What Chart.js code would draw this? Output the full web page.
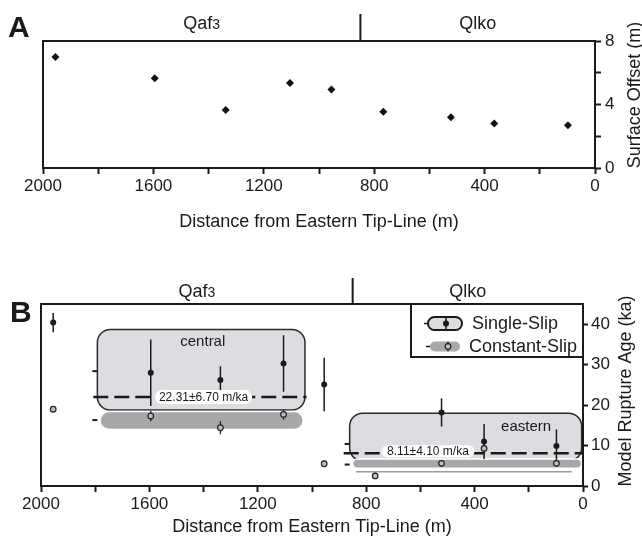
<!DOCTYPE html>
<html>
<head>
<meta charset="utf-8">
<script src="https://cdn.jsdelivr.net/npm/chart.js@4.4.0/dist/chart.umd.min.js"></script>
<style>
    body { margin: 0; background: #fff; width: 642px; height: 541px; position: relative; overflow: hidden; }
    canvas { position: absolute; left: 0; }
    #chartA { top: 0; }
    #chartB { top: 265px; }
</style>
</head>
<body>
<canvas id="chartA" width="642" height="240"></canvas>
<canvas id="chartB" width="642" height="276"></canvas>
<script>
// distance from eastern tip-line (m) of each site
const distance = [1955, 1595, 1338, 1105, 955, 767, 522, 365, 98];
// panel A
const surfaceOffset = [7.0, 5.65, 3.65, 5.35, 4.95, 3.55, 3.2, 2.8, 2.7];
// panel B
const singleSlipAge = [40.4, 28.0, 26.2, 30.3, 25.1, null, 18.2, 11.0, 9.9];
const singleSlipErr = [2.4, 8.2, 3.4, 7.0, 6.6, null, 3.5, 4.3, 4.1];
const constantSlipAge = [19.0, 17.3, 14.4, 17.7, 5.5, 2.5, 5.6, 9.3, 5.6];
const constantSlipErr = [0.8, 1.3, 1.6, 1.3, 0.8, 0.8, 0.8, 1.0, 0.8];

const xTickLabels = [2000, 1600, 1200, 800, 400, 0];
const offsetTickLabels = [0, 4, 8];
const ageTickLabels = [0, 10, 20, 30, 40];

const unitNames = ['Qaf3', 'Qlko'];
const unitCenters = [1425, 425];
const unitBoundary = 850;

// grouped sites (data units)
const centralBox = { from: 1792, to: 1026, top: 38.7, bottom: 18.8 };
const centralBand = { from: 1782, to: 1032, top: 18.4, bottom: 14.0 };
const easternBox = { from: 861, to: 5, top: 18.0, bottom: 6.2 };
const easternBand = { from: 850, to: 5, top: 6.7, bottom: 4.4 };
const centralMean = { from: 1807, to: 1020, age: 22.0 };
const easternMean = { from: 883, to: 0, age: 8.1 };
const centralRate = '22.31±6.70 m/ka';
const easternRate = '8.11±4.10 m/ka';

const FONT = "'Liberation Sans', Arial, Helvetica, sans-serif";
const ink = '#1a1a1a';
const boxFill = '#dcdde0';
const bandFill = '#a7a8aa';

Chart.defaults.font.family = FONT;
Chart.defaults.color = ink;

const framePlugin = {
    id: 'frame',
    afterDraw(chart) {
        const { ctx, chartArea: a } = chart;
        ctx.save();
        ctx.strokeStyle = ink;
        ctx.lineWidth = 2;
        ctx.strokeRect(a.left, a.top, a.right - a.left, a.bottom - a.top);
        ctx.restore();
    }
};

function drawUnitName(ctx, name, cx, cy) {
    let main = name, sub = '';
    if (/\d$/.test(name)) { main = name.slice(0, -1); sub = name.slice(-1); }
    ctx.font = '18px ' + FONT;
    const w1 = ctx.measureText(main).width;
    ctx.font = '14px ' + FONT;
    const w2 = ctx.measureText(sub).width;
    const x0 = cx - (w1 + w2) / 2;
    ctx.textAlign = 'left';
    ctx.textBaseline = 'alphabetic';
    ctx.font = '18px ' + FONT;
    ctx.fillText(main, x0, cy + 6);
    ctx.font = '14px ' + FONT;
    ctx.fillText(sub, x0 + w1, cy + 6);
}

function decorPlugin(opts) {
    return {
        id: 'decor' + opts.letter,
        afterDraw(chart) {
            const { ctx, chartArea: a, scales: { x } } = chart;
            ctx.save();
            const bx = x.getPixelForValue(unitBoundary);
            ctx.strokeStyle = ink;
            ctx.lineWidth = 2;
            ctx.beginPath();
            ctx.moveTo(bx, a.top - opts.dividerLen);
            ctx.lineTo(bx, a.top);
            ctx.stroke();
            ctx.fillStyle = ink;
            unitNames.forEach((n, i) => drawUnitName(ctx, n, x.getPixelForValue(unitCenters[i]), a.top - opts.unitGap));

            ctx.font = 'bold 30px ' + FONT;
            ctx.textAlign = 'left';
            ctx.textBaseline = 'alphabetic';
            ctx.fillText(opts.letter, opts.letterX, opts.letterY);

            ctx.translate(opts.titleX, opts.titleY);
            ctx.rotate(-Math.PI / 2);
            ctx.font = '18px ' + FONT;
            ctx.textAlign = 'center';
            ctx.textBaseline = 'middle';
            ctx.fillText(opts.yTitle, 0, 0);
            ctx.restore();
        }
    };
}

function xScale(titlePad, height) {
    return {
        type: 'linear', reverse: true, min: 0, max: 2000,
        ticks: {
            stepSize: 200, autoSkip: false, maxRotation: 0, padding: 2,
            font: { size: 17 },
            callback: v => xTickLabels.includes(v) ? String(v) : ''
        },
        grid: { drawOnChartArea: false, tickLength: 6, tickWidth: 2, tickColor: ink },
        border: { display: false },
        title: { display: true, text: 'Distance from Eastern Tip-Line (m)', font: { size: 18 }, padding: { top: 0, bottom: titlePad } },
        afterFit: s => { s.height = height; }
    };
}

// ---- Panel A
new Chart(document.getElementById('chartA'), {
    type: 'scatter',
    data: {
        datasets: [{
            data: distance.map((d, i) => ({ x: d, y: surfaceOffset[i] })),
            pointStyle: 'rectRot',
            pointRadius: 4,
            backgroundColor: '#111',
            borderWidth: 0
        }]
    },
    options: {
        responsive: false,
        animation: false,
        layout: { padding: { left: 43, top: 41, right: 0, bottom: 0 } },
        plugins: { legend: { display: false }, tooltip: { enabled: false } },
        scales: {
            x: xScale(7, 72),
            y: {
                position: 'right', min: 0, max: 8,
                ticks: { stepSize: 2, padding: 4, font: { size: 17 }, callback: v => offsetTickLabels.includes(v) ? String(v) : '' },
                grid: { drawOnChartArea: false, tickLength: 6, tickWidth: 2, tickColor: ink },
                border: { display: false },
                afterFit: s => { s.width = 47; }
            }
        }
    },
    plugins: [framePlugin, decorPlugin({
        letter: 'A', letterX: 8, letterY: 37, dividerLen: 27, unitGap: 18,
        titleX: 635, titleY: 95, yTitle: 'Surface Offset (m)'
    })]
});

// ---- Panel B
function rangePx(chart, r) {
    const { x, y } = chart.scales;
    const x1 = x.getPixelForValue(r.from), x2 = x.getPixelForValue(r.to);
    const y1 = y.getPixelForValue(r.top), y2 = y.getPixelForValue(r.bottom);
    return { x1, x2, y1, y2 };
}

function drawBox(ctx, p) {
    ctx.beginPath();
    ctx.roundRect(p.x1, p.y1, p.x2 - p.x1, p.y2 - p.y1, 13);
    ctx.fillStyle = boxFill;
    ctx.fill();
    ctx.strokeStyle = '#2b2b2b';
    ctx.lineWidth = 1.5;
    ctx.stroke();
}

function drawBand(ctx, p) {
    ctx.beginPath();
    ctx.roundRect(p.x1, p.y1, p.x2 - p.x1, p.y2 - p.y1, (p.y2 - p.y1) / 2);
    ctx.fillStyle = bandFill;
    ctx.fill();
    ctx.strokeStyle = '#fff';
    ctx.lineWidth = 1.5;
    ctx.stroke();
}

function drawRate(ctx, text, cx, cy, w, h) {
    ctx.beginPath();
    ctx.roundRect(cx - w / 2, cy - h / 2, w, h, h / 2);
    ctx.fillStyle = '#fff';
    ctx.fill();
    ctx.fillStyle = ink;
    ctx.font = '12px ' + FONT;
    ctx.textAlign = 'center';
    ctx.textBaseline = 'middle';
    ctx.fillText(text, cx, cy + 0.5);
}

const groupPlugin = {
    id: 'groups',
    beforeDatasetsDraw(chart) {
        const { ctx, scales: { x, y } } = chart;
        ctx.save();
        drawBox(ctx, rangePx(chart, centralBox));
        drawBand(ctx, rangePx(chart, centralBand));
        drawBox(ctx, rangePx(chart, easternBox));
        // thin line under eastern band
        ctx.strokeStyle = '#6a6a6a';
        ctx.lineWidth = 1;
        ctx.beginPath();
        ctx.moveTo(x.getPixelForValue(838), y.getPixelForValue(3.5));
        ctx.lineTo(x.getPixelForValue(42), y.getPixelForValue(3.5));
        ctx.stroke();
        drawBand(ctx, rangePx(chart, easternBand));

        // short marks left of each group
        ctx.strokeStyle = ink;
        ctx.lineWidth = 2;
        [[centralBox, [28.4, 16.3]], [easternBox, [10.4, 5.3]]].forEach(([b, ys]) => {
            const bx = x.getPixelForValue(b.from);
            ys.forEach(v => {
                const py = y.getPixelForValue(v);
                ctx.beginPath();
                ctx.moveTo(bx - 5, py);
                ctx.lineTo(bx, py);
                ctx.stroke();
            });
        });

        ctx.fillStyle = ink;
        ctx.font = '15px ' + FONT;
        ctx.textAlign = 'center';
        ctx.textBaseline = 'middle';
        ctx.fillText('central', x.getPixelForValue(1403), y.getPixelForValue(35.7));
        ctx.fillText('eastern', x.getPixelForValue(210), y.getPixelForValue(14.7));

        // error bars
        const bars = (vals, errs, color, width) => {
            ctx.strokeStyle = color;
            ctx.lineWidth = width;
            distance.forEach((d, i) => {
                if (vals[i] == null) return;
                const px = x.getPixelForValue(d);
                ctx.beginPath();
                ctx.moveTo(px, y.getPixelForValue(vals[i] + errs[i]));
                ctx.lineTo(px, y.getPixelForValue(vals[i] - errs[i]));
                ctx.stroke();
            });
        };
        bars(singleSlipAge, singleSlipErr, ink, 1.5);
        bars(constantSlipAge, constantSlipErr, '#222', 1.3);
        ctx.restore();
    },
    afterDatasetsDraw(chart) {
        const { ctx, scales: { x, y } } = chart;
        ctx.save();
        drawRate(ctx, centralRate, x.getPixelForValue(1400), y.getPixelForValue(centralMean.age), 97, 14);
        drawRate(ctx, easternRate, x.getPixelForValue(572), y.getPixelForValue(easternMean.age + 0.5), 93, 12);
        ctx.restore();
    },
    afterDraw(chart) {
        const { ctx, chartArea: a } = chart;
        const L = a.right - 172, T = a.top, W = 172, H = 53;
        ctx.save();
        ctx.fillStyle = '#fff';
        ctx.fillRect(L, T, W, H);
        ctx.strokeStyle = ink;
        ctx.lineWidth = 2;
        ctx.strokeRect(L, T, W, H);

        // Single-Slip
        let cy = T + 19.5;
        ctx.lineWidth = 1.5;
        ctx.beginPath(); ctx.moveTo(L + 13, cy); ctx.lineTo(L + 17, cy); ctx.stroke();
        ctx.beginPath();
        ctx.roundRect(L + 17, cy - 6.5, 34, 13, 6.5);
        ctx.fillStyle = boxFill;
        ctx.fill();
        ctx.lineWidth = 2;
        ctx.stroke();
        ctx.lineWidth = 1.5;
        ctx.beginPath(); ctx.moveTo(L + 35, cy - 7); ctx.lineTo(L + 35, cy + 7); ctx.stroke();
        ctx.beginPath(); ctx.arc(L + 35, cy, 3, 0, Math.PI * 2); ctx.fillStyle = ink; ctx.fill();
        ctx.font = '18px ' + FONT;
        ctx.textAlign = 'left';
        ctx.textBaseline = 'middle';
        ctx.fillText('Single-Slip', L + 61, cy + 1);

        // Constant-Slip
        cy = T + 42.5;
        ctx.beginPath(); ctx.moveTo(L + 15, cy); ctx.lineTo(L + 19, cy); ctx.stroke();
        ctx.beginPath();
        ctx.roundRect(L + 19, cy - 5, 30, 10, 5);
        ctx.fillStyle = bandFill;
        ctx.fill();
        ctx.strokeStyle = '#222';
        ctx.lineWidth = 1.2;
        ctx.beginPath(); ctx.moveTo(L + 37, cy - 5); ctx.lineTo(L + 37, cy + 5); ctx.stroke();
        ctx.beginPath(); ctx.arc(L + 37, cy, 2.8, 0, Math.PI * 2);
        ctx.fillStyle = '#bdbdbd'; ctx.fill(); ctx.stroke();
        ctx.fillStyle = ink;
        ctx.fillText('Constant-Slip', L + 58, cy + 1);
        ctx.restore();
    }
};

new Chart(document.getElementById('chartB'), {
    type: 'scatter',
    data: {
        datasets: [
            {
                label: 'Single-Slip',
                data: distance.map((d, i) => ({ x: d, y: singleSlipAge[i] })).filter(p => p.y != null),
                pointStyle: 'circle', pointRadius: 3,
                backgroundColor: ink, borderWidth: 0, order: 1
            },
            {
                label: 'Constant-Slip',
                data: distance.map((d, i) => ({ x: d, y: constantSlipAge[i] })),
                pointStyle: 'circle', pointRadius: 2.8,
                backgroundColor: '#bdbdbd', borderColor: '#222', borderWidth: 1.2, order: 2
            },
            {
                type: 'line',
                data: [{ x: centralMean.from, y: centralMean.age }, { x: centralMean.to, y: centralMean.age }],
                borderColor: ink, borderWidth: 2.5, borderDash: [15, 6], pointRadius: 0, order: 3
            },
            {
                type: 'line',
                data: [{ x: easternMean.from, y: easternMean.age }, { x: easternMean.to, y: easternMean.age }],
                borderColor: ink, borderWidth: 2.5, borderDash: [15, 6], pointRadius: 0, order: 3
            }
        ]
    },
    options: {
        responsive: false,
        animation: false,
        layout: { padding: { left: 41, top: 39, right: 0, bottom: 0 } },
        plugins: { legend: { display: false }, tooltip: { enabled: false } },
        scales: {
            x: xScale(3, 55),
            y: {
                position: 'right', min: 0, max: 45,
                ticks: { stepSize: 5, padding: 3, font: { size: 17 }, callback: v => ageTickLabels.includes(v) ? String(v) : '' },
                grid: { drawOnChartArea: false, tickLength: 5, tickWidth: 2, tickColor: ink },
                border: { display: false },
                afterFit: s => { s.width = 59; }
            }
        }
    },
    plugins: [groupPlugin, framePlugin, decorPlugin({
        letter: 'B', letterX: 10, letterY: 57, dividerLen: 26, unitGap: 13,
        titleX: 626, titleY: 126, yTitle: 'Model Rupture Age (ka)'
    })]
});
</script>
</body>
</html>
